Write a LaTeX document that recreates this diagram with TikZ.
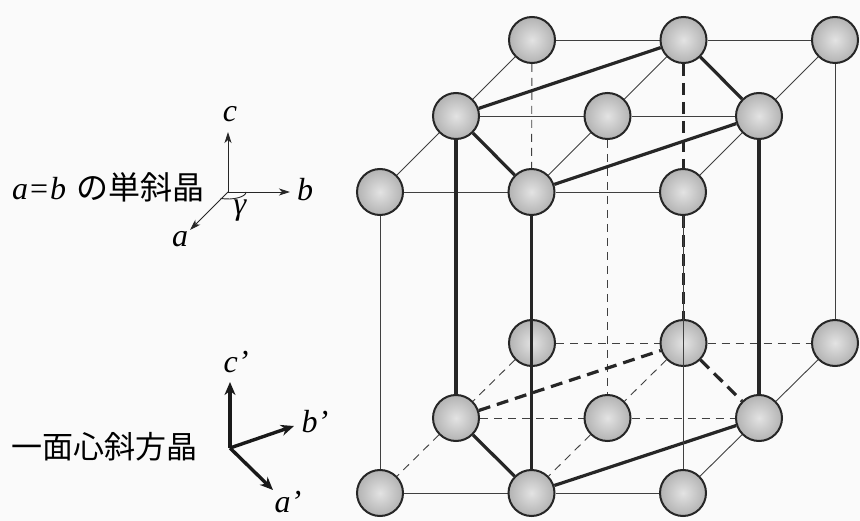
\documentclass[tikz,border=0pt]{standalone}
\usepackage{fontspec}
\setmainfont{Liberation Serif}
\newfontfamily\jpfont{Noto Sans CJK JP}
\usetikzlibrary{arrows.meta}
\pgfdeclarelayer{paper}
\pgfdeclarelayer{bg}
\pgfdeclarelayer{fg}
\pgfsetlayers{paper,bg,main,fg}
\begin{document}
\begin{tikzpicture}[x=1pt,y=-1pt,
  atom/.style={circle,minimum size=46pt,inner sep=0pt,draw=black!85,line width=2pt,
    shading=radial,inner color=gray!22,outer color=gray!60},
  thinln/.style={line width=0.9pt,draw=black!75},
  thinds/.style={thinln,dash pattern=on 8pt off 6pt},
  thickln/.style={line width=3.2pt,draw=black!85},
  thickds/.style={thickln,dash pattern=on 12pt off 7pt},
  lat/.style={inner sep=0pt,font=\rmfamily\fontsize{32}{32}\selectfont\itshape},
  jp/.style={inner sep=0pt,anchor=west,font=\rmfamily\fontsize{32}{32}\selectfont},
  thinarrow/.style={line width=0.9pt,draw=black!85,-{Stealth[length=11pt,width=7pt,inset=3pt]}},
  thickarrow/.style={line width=3.4pt,draw=black!90,-{Stealth[length=13pt,width=11pt,inset=4pt]}}
]
\begin{pgfonlayer}{paper}
\fill[gray!4] (0,0) rectangle (860,521);
\end{pgfonlayer}
\useasboundingbox (0,0) rectangle (860,521);

% lattice nodes (spheres)
\foreach \i in {0,1,2}{
  \foreach \j in {0,1,2}{
    \node[atom] (t\i\j) at ({380+151.5*\i+76*\j},{192-76*\j}) {};
    \node[atom] (b\i\j) at ({380+151.5*\i+76*\j},{493-75*\j}) {};
  }
}

\begin{pgfonlayer}{bg}
  % hidden (dashed) thin lines
  \draw[thinds] (t02) -- (t10);
  \draw[thinds] (t11) -- (b11);
  \draw[thinds] (b02) -- (b12);
  \draw[thinds] (b12) -- (b22);
  \draw[thinds] (b01) -- (b11);
  \draw[thinds] (b11) -- (b21);
  \draw[thinds] (b02) -- (b01);
  \draw[thinds] (b01) -- (b00);
  \draw[thinds] (b12) -- (b11);
  \draw[thinds] (b11) -- (b10);
  % visible thin lines
  \draw[thinln] (t02) -- (t12);
  \draw[thinln] (t12) -- (t22);
  \draw[thinln] (t01) -- (t11);
  \draw[thinln] (t11) -- (t21);
  \draw[thinln] (t00) -- (t10);
  \draw[thinln] (t10) -- (t20);
  \draw[thinln] (t02) -- (t01);
  \draw[thinln] (t01) -- (t00);
  \draw[thinln] (t12) -- (t11);
  \draw[thinln] (t11) -- (t10);
  \draw[thinln] (t22) -- (t21);
  \draw[thinln] (t21) -- (t20);
  \draw[thinln] (t00) -- (b00);
  \draw[thinln] (t22) -- (b22);
  \draw[thinln] (b00) -- (b10);
  \draw[thinln] (b10) -- (b20);
  \draw[thinln] (b22) -- (b21);
  \draw[thinln] (b21) -- (b20);
  % thick cell
  \draw[thickds] (t12) -- (b12);
  \draw[thickds] (b01) -- (b12);
  \draw[thickds] (b12) -- (b21);
  \draw[thickln] (t01) -- (t12);
  \draw[thickln] (t12) -- (t21);
  \draw[thickln] (t01) -- (t10);
  \draw[thickln] (t10) -- (t21);
  \draw[thickln] (b01) -- (b10);
  \draw[thickln] (b10) -- (b21);
  \draw[thickln] (t01) -- (b01);
  \draw[thickln] (t21) -- (b21);
\end{pgfonlayer}

\begin{pgfonlayer}{fg}
  \draw[thickln] (t10) -- (b10);
  \draw[thinln] (t20) -- (b20);
\end{pgfonlayer}

% monoclinic axes
\node[jp] (lab1) at (12,187) {\textit{a}\hspace{2pt}=\hspace{2pt}\textit{b}\hspace{10pt}{\jpfont\fontsize{32}{32}\selectfont の単斜晶}};
\coordinate (o1) at (228,192);
\coordinate (ca) at (228,132);
\coordinate (cb) at (290,192);
\coordinate (cc) at (190,230);
\draw[thinarrow] (o1) -- (ca);
\draw[thinarrow] (o1) -- (cb);
\draw[thinarrow] (o1) -- (cc);
\draw[line width=0.9pt,black!85] (o1) ++(246:18pt and 7pt) arc[start angle=246,end angle=360,x radius=18pt,y radius=7pt];
\node[lat] (lc) at (230,114) {c};
\node[lat] (lb) at (305,190) {b};
\node[lat] (la) at (180,239) {a};
\node[lat] (lg) at (240,211) {γ};

% orthorhombic axes
\node[jp] (lab2) at (11,447) {\jpfont\fontsize{31}{31}\selectfont 一面心斜方晶};
\coordinate (o2) at (230,448);
\coordinate (pc) at (230,382);
\coordinate (pb) at (294,426);
\coordinate (pa) at (273,490);
\draw[thickarrow] (o2) -- (pc);
\draw[thickarrow] (o2) -- (pb);
\draw[thickarrow] (o2) -- (pa);
\node[lat] (lcp) at (236,362) {c’};
\node[lat] (lbp) at (315,422) {b’};
\node[lat] (lap) at (288,502) {a’};
\end{tikzpicture}
\end{document}
